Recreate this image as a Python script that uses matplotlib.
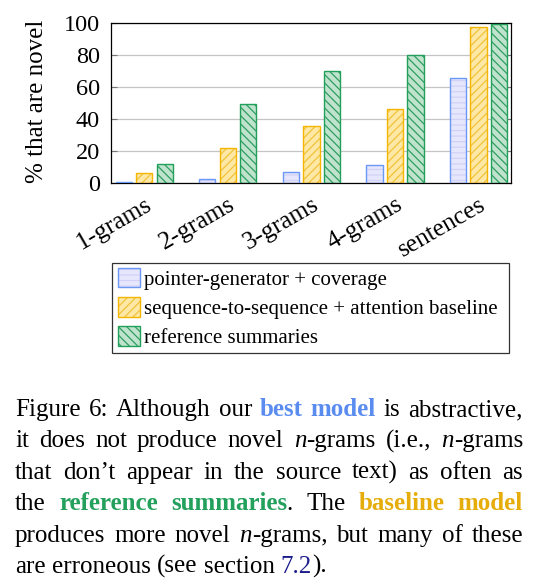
import numpy as np
import matplotlib
matplotlib.use("Agg")
import matplotlib.pyplot as plt
from matplotlib.legend_handler import HandlerTuple

plt.rcParams['font.family'] = ['Liberation Serif', 'DejaVu Serif']
plt.rcParams['hatch.linewidth'] = 0.9

# ---------------- data ----------------
categories = ["1-grams", "2-grams", "3-grams", "4-grams", "sentences"]
series_names = ["pointer-generator + coverage",
                "sequence-to-sequence + attention baseline",
                "reference summaries"]
pointer_gen = [0.3, 2.6, 6.9, 10.8, 65.2]
seq2seq = [6.3, 21.4, 35.7, 46.2, 97.1]
reference = [11.4, 49.2, 70.0, 80.0, 99.0]
yticks = [0, 20, 40, 60, 80, 100]

# ---------------- styles ----------------
fills = ["#e6e6fc", "#fde8a6", "#bfe3cc"]
hatch_cols = ["#d2d2f6", "#f2c23a", "#2f9e62"]
edges = ["#6a98f6", "#f4b400", "#20a05a"]
hatches = ["---", "////", "\\\\\\\\"]

W, H = 541, 588
fig = plt.figure(figsize=(W / 100, H / 100), dpi=100)
ax = fig.add_axes([111 / W, 1 - 182.7 / H, 400 / W, 160 / H])

x = np.arange(len(categories))
bw = 0.195
offs = [-0.245, 0.0, 0.245]
handles = []
for vals, off, fc, hc, ec, ht in zip([pointer_gen, seq2seq, reference], offs,
                                     fills, hatch_cols, edges, hatches):
    bf = ax.bar(x + off, vals, bw, color=fc, hatch=ht, edgecolor=hc,
                linewidth=0, zorder=2)
    be = ax.bar(x + off, vals, bw, fill=False, edgecolor=ec, linewidth=1.0,
                zorder=3)
    handles.append((bf.patches[0], be.patches[0]))

ax.set_xlim(-0.397, 4.387)
ax.set_ylim(0, 100)
ax.set_yticks(yticks)
ax.set_yticklabels([str(v) for v in yticks])
ax.yaxis.grid(True, color="#c4c4c4", linewidth=0.9)
ax.set_axisbelow(True)
ax.tick_params(axis='y', direction='in', length=4, color='#777777',
               right=True, labelsize=17.5, pad=8)
ax.set_xticks(x)
ax.set_xticklabels(categories, rotation=30, ha='right', va='top',
                   rotation_mode='anchor', fontsize=18.3)
ax.tick_params(axis='x', length=0, pad=8)
for s in ax.spines.values():
    s.set_color('black')
    s.set_linewidth(0.9)

fig.text(37 / W, 1 - 101.5 / H, "% that are novel", rotation=90,
         ha='center', va='center', fontsize=18)

leg = fig.legend(handles=handles, labels=series_names,
                 handler_map={tuple: HandlerTuple(ndivide=1, pad=0)},
                 loc='upper left',
                 bbox_to_anchor=(112.3 / W, 1 - 262.7 / H, (509 - 112.3) / W, 0),
                 bbox_transform=fig.transFigure, mode='expand',
                 borderaxespad=0, frameon=True, fancybox=False,
                 edgecolor='black', fontsize=15, handlelength=1.06,
                 handleheight=1.05, labelspacing=0.36, handletextpad=0.23,
                 borderpad=0.25)
leg.get_frame().set_linewidth(0.9)

# ---------------- caption (justified) ----------------
R = dict(color='black')
I = dict(color='black', style='italic')
BB = dict(color='#5a8cf0', weight='bold')
BG = dict(color='#22a05c', weight='bold')
BY = dict(color='#e6ad0a', weight='bold')
LK = dict(color='#1c1c8c')

caption_lines = [
    [[("Figure", R)], [("6:", R)], [("Although", R)], [("our", R)],
     [("best", BB)], [("model", BB)], [("is", R)], [("abstractive,", R)]],
    [[("it", R)], [("does", R)], [("not", R)], [("produce", R)], [("novel", R)],
     [("n", I), ("-grams", R)], [("(i.e.,", R)], [("n", I), ("-grams", R)]],
    [[("that", R)], [("don\u2019t", R)], [("appear", R)], [("in", R)], [("the", R)],
     [("source", R)], [("text)", R)], [("as", R)], [("often", R)], [("as", R)]],
    [[("the", R)], [("reference", BG)], [("summaries", BG), (".", R)],
     [("The", R)], [("baseline", BY)], [("model", BY)]],
    [[("produces", R)], [("more", R)], [("novel", R)], [("n", I), ("-grams,", R)],
     [("but", R)], [("many", R)], [("of", R)], [("these", R)]],
    [[("are", R)], [("erroneous", R)], [("(see", R)], [("section", R)],
     [("7.2", LK), (").", R)]],
]
baselines = [416, 447.3, 479, 510, 541.7, 573]
x_left, x_right = 15, 523
cap_fs = 18

renderer = fig.canvas.get_renderer()
space_w = 0.25 * cap_fs * 100 / 72
for li, (words, yb) in enumerate(zip(caption_lines, baselines)):
    word_items = []
    total = 0
    for word in words:
        runs = []
        ww = 0
        for txt, st in word:
            t = fig.text(0, 0, txt, fontsize=cap_fs, va='baseline', ha='left',
                         **st)
            wpx = t.get_window_extent(renderer).width
            runs.append((t, wpx))
            ww += wpx
        word_items.append(runs)
        total += ww
    last = li == len(caption_lines) - 1
    if last:
        gap = space_w
    else:
        gap = (x_right - x_left - total) / (len(words) - 1)
    cx = x_left
    for runs in word_items:
        for t, wpx in runs:
            t.set_position((cx / W, 1 - yb / H))
            cx += wpx
        cx += gap

fig.savefig("out.png", dpi=100)
